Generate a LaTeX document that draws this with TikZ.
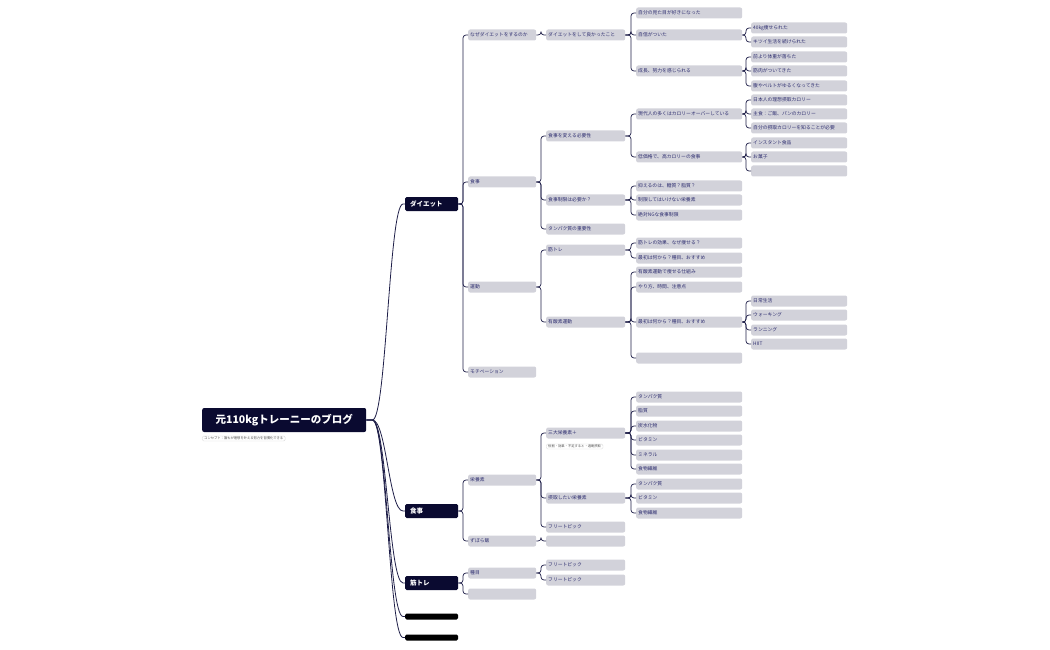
\documentclass[tikz,border=0pt]{standalone}
\usepackage{fontspec}
\setmainfont{Noto Sans CJK JP}
\usetikzlibrary{calc}
\definecolor{pillc}{HTML}{D2D2DA}
\definecolor{txtc}{HTML}{2E2E70}
\definecolor{navy}{HTML}{0A0A30}
\definecolor{linec}{HTML}{1E1E48}
\tikzset{
 pill/.style={rectangle,rounded corners=2pt,fill=pillc,anchor=west,inner xsep=2pt,inner ysep=0pt,minimum height=11pt,font=\fontsize{4.8}{6}\selectfont,text=txtc,align=left},
 l1/.style={pill,text width=64pt},
 l2/.style={pill,text width=75pt},
 l3/.style={pill,text width=102pt},
 l4/.style={pill,text width=92pt},
 mainn/.style={rectangle,rounded corners=1.5pt,fill=navy,anchor=west,inner xsep=5pt,inner ysep=0pt,minimum height=14pt,text width=43pt,align=left,text=white,font=\bfseries\fontsize{6.5}{8}\selectfont},
 bar/.style={rectangle,rounded corners=1.5pt,fill=black,anchor=west,minimum width=53pt,minimum height=6pt,inner sep=0pt},
 con/.style={draw=linec,line width=0.7pt,rounded corners=3pt},
 note/.style={rectangle,rounded corners=1.5pt,draw=black!15,fill=white,anchor=west,inner xsep=2pt,inner ysep=1pt,font=\fontsize{3.3}{4}\selectfont,text=black!70}
}
\newcommand\cn[2]{\draw[con] (#1.east) -- ($(#1.east -| #2.west)+(-5pt,0)$) |- (#2.west);}
\begin{document}
\begin{tikzpicture}[x=1pt,y=-1pt]
\useasboundingbox (0,0) rectangle (1050,650);
% root
\node[rectangle,rounded corners=2pt,fill=navy,minimum width=164pt,minimum height=24pt,text=white,font=\bfseries\fontsize{10.5}{12}\selectfont,anchor=west,inner sep=0pt] (root) at (202,420) {元110kgトレーニーのブログ};
\node[note] (rn) at (202,438.5) {コンセプト：誰もが理想を叶える努力を習慣化できる};
% main
\node[mainn] (m1) at (405,204) {ダイエット};
\node[mainn] (m2) at (405,511) {食事};
\node[mainn] (m3) at (405,583) {筋トレ};
\node[bar] (m4) at (405,616.5) {};
\node[bar] (m5) at (405,637.5) {};
\foreach \m in {m1,m2,m3,m4,m5}{
 \draw[linec,line width=0.8pt] (root.east) -- ++(6,0) .. controls +(14,0) and +(-14,0) .. ($(\m.west)+(-2,0)$) -- (\m.west);}
% level1
\node[l1] (a1) at (468,35) {なぜダイエットをするのか};
\node[l1] (a2) at (468,182) {食事};
\node[l1] (a3) at (468,287) {運動};
\node[l1] (a4) at (468,372) {モチベーション};
\node[l1] (b1) at (468,480) {栄養素};
\node[l1] (b2) at (468,541) {ずぼら飯};
\node[l1] (c1) at (468,573) {種目};
\node[l1] (c2) at (468,594) {};
\foreach \c in {a1,a2,a3,a4}{\cn{m1}{\c}}
\foreach \c in {b1,b2}{\cn{m2}{\c}}
\foreach \c in {c1,c2}{\cn{m3}{\c}}
% level2
\node[l2] (a11) at (546,35) {ダイエットをして良かったこと};
\node[l2] (a21) at (546,136) {食事を変える必要性};
\node[l2] (a22) at (546,200) {食事制限は必要か？};
\node[l2] (a23) at (546,229) {タンパク質の重要性};
\node[l2] (a31) at (546,250) {筋トレ};
\node[l2] (a32) at (546,322) {有酸素運動};
\node[l2] (b11) at (546,433) {三大栄養素＋};
\node[note] (b11n) at (546,446.5) {役割・効果・不足すると・過剰摂取};
\node[l2] (b12) at (546,498) {摂取したい栄養素};
\node[l2] (b13) at (546,527) {フリートピック};
\node[l2] (b21) at (546,541) {};
\node[l2] (c11) at (546,565) {フリートピック};
\node[l2] (c12) at (546,580) {フリートピック};
\cn{a1}{a11}
\foreach \c in {a21,a22,a23}{\cn{a2}{\c}}
\foreach \c in {a31,a32}{\cn{a3}{\c}}
\foreach \c in {b11,b12,b13}{\cn{b1}{\c}}
\cn{b2}{b21}
\foreach \c in {c11,c12}{\cn{c1}{\c}}
% level3
\node[l3] (d1) at (636,13) {自分の見た目が好きになった};
\node[l3] (d2) at (636,35) {自信がついた};
\node[l3] (d3) at (636,71) {成長、努力を感じられる};
\node[l3] (e1) at (636,114) {現代人の多くはカロリーオーバーしている};
\node[l3] (e2) at (636,157) {低価格で、高カロリーの食事};
\node[l3] (f1) at (636,186) {抑えるのは、糖質？脂質？};
\node[l3] (f2) at (636,200) {制限してはいけない栄養素};
\node[l3] (f3) at (636,215) {絶対NGな食事制限};
\node[l3] (g1) at (636,243) {筋トレの効果、なぜ痩せる？};
\node[l3] (g2) at (636,258) {最初は何から？種目、おすすめ};
\node[l3] (h1) at (636,272) {有酸素運動で痩せる仕組み};
\node[l3] (h2) at (636,287) {やり方、時間、注意点};
\node[l3] (h3) at (636,322) {最初は何から？種目、おすすめ};
\node[l3] (h4) at (636,358) {};
\node[l3] (i1) at (636,397) {タンパク質};
\node[l3] (i2) at (636,411) {脂質};
\node[l3] (i3) at (636,426) {炭水化物};
\node[l3] (i4) at (636,440) {ビタミン};
\node[l3] (i5) at (636,455) {ミネラル};
\node[l3] (i6) at (636,469) {食物繊維};
\node[l3] (j1) at (636,484) {タンパク質};
\node[l3] (j2) at (636,498) {ビタミン};
\node[l3] (j3) at (636,513) {食物繊維};
\foreach \c in {d1,d2,d3}{\cn{a11}{\c}}
\foreach \c in {e1,e2}{\cn{a21}{\c}}
\foreach \c in {f1,f2,f3}{\cn{a22}{\c}}
\foreach \c in {g1,g2}{\cn{a31}{\c}}
\foreach \c in {h1,h2,h3,h4}{\cn{a32}{\c}}
\foreach \c in {i1,i2,i3,i4,i5,i6}{\cn{b11}{\c}}
\foreach \c in {j1,j2,j3}{\cn{b12}{\c}}
% level4
\node[l4] (k1) at (751,28) {40kg痩せられた};
\node[l4] (k2) at (751,42) {キツイ生活を続けられた};
\node[l4] (k3) at (751,57) {前より体重が落ちた};
\node[l4] (k4) at (751,71) {筋肉がついてきた};
\node[l4] (k5) at (751,86) {腹やベルトがゆるくなってきた};
\node[l4] (n1) at (751,100) {日本人の理想摂取カロリー};
\node[l4] (n2) at (751,114) {主食：ご飯、パンのカロリー};
\node[l4] (n3) at (751,128) {自分の摂取カロリーを知ることが必要};
\node[l4] (n4) at (751,143) {インスタント食品};
\node[l4] (n5) at (751,157) {お菓子};
\node[l4] (n6) at (751,171) {};
\node[l4] (p1) at (751,301) {日常生活};
\node[l4] (p2) at (751,315) {ウォーキング};
\node[l4] (p3) at (751,330) {ランニング};
\node[l4] (p4) at (751,344) {HIIT};
\foreach \c in {k1,k2}{\cn{d2}{\c}}
\foreach \c in {k3,k4,k5}{\cn{d3}{\c}}
\foreach \c in {n1,n2,n3}{\cn{e1}{\c}}
\foreach \c in {n4,n5,n6}{\cn{e2}{\c}}
\foreach \c in {p1,p2,p3,p4}{\cn{h3}{\c}}
\end{tikzpicture}
\end{document}
